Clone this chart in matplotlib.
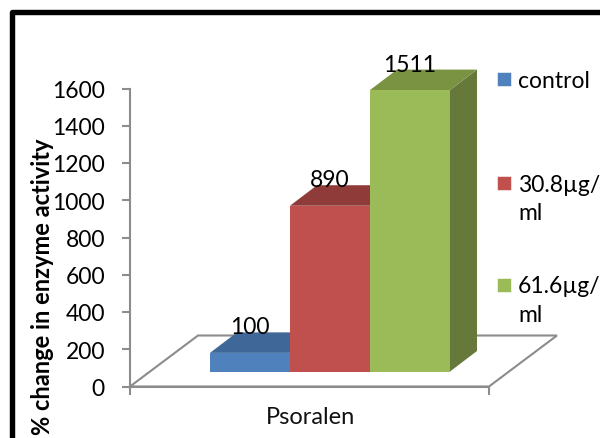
import matplotlib
matplotlib.use("Agg")
import matplotlib.pyplot as plt
from matplotlib.lines import Line2D
from matplotlib.patches import Polygon, Rectangle

plt.rcParams["font.family"] = ["Lato", "DejaVu Sans"]

# Chart data
categories = ["Psoralen"]
series_names = ["control", "30.8µg/\nml", "61.6µg/\nml"]
series_values = [100, 890, 1511]
y_ticks = [0, 200, 400, 600, 800, 1000, 1200, 1400, 1600]
y_title = "% change in enzyme activity"

# Face colours: front, top, side
front_colors = ["#4F81BD", "#C0504D", "#9BBB59"]
top_colors = ["#3F6797", "#8F3B3A", "#7A9343"]
side_colors = ["#3A5F8B", "#843735", "#66783A"]
AXIS = "#8C8C8C"

W, H = 600, 439
fig = plt.figure(figsize=(W / 100, H / 100), dpi=100, facecolor="white")


def fx(px):
    return px / W


def fy(py):
    return 1 - py / H


# Frame drawn round the figure
fig.add_artist(Line2D([fx(11.5), fx(11.5), fx(600)], [fy(445), fy(12.5), fy(12.5)],
                      color="black", lw=3.9, solid_joinstyle="round",
                      transform=fig.transFigure))

# Value axis spans pixel rows 387 to 89, horizontal data units are pixels
ax = fig.add_axes([fx(130), fy(387.5), fx(470), (387 - 89) / H])
ax.set_xlim(130, 600)
ax.set_ylim(0, 1600)
ax.patch.set_alpha(0)
units_per_px = 1600 / (387 - 89)

# Floor of the 3D box
floor_dx, floor_dy = 68, 51 * units_per_px
floor_right = 489
ax.add_patch(Polygon([(130, 0), (130 + floor_dx, floor_dy),
                      (floor_right + floor_dx, floor_dy), (floor_right, 0)],
                     closed=True, facecolor="white", edgecolor=AXIS, lw=1.5,
                     clip_on=False, zorder=1))

# Column geometry
bar_left, bar_width = 210, 80
depth_dx, depth_dy = 27, 20.5 * units_per_px
base = 15 * units_per_px

for i, value in enumerate(series_values):
    x0 = bar_left + i * bar_width
    x1 = x0 + bar_width
    top = base + value
    z = 3 + i
    ax.add_patch(Polygon([(x1, base), (x1 + depth_dx, base + depth_dy),
                          (x1 + depth_dx, top + depth_dy), (x1, top)],
                         closed=True, facecolor=side_colors[i], edgecolor="none",
                         clip_on=False, zorder=z))
    ax.add_patch(Polygon([(x0, top), (x0 + depth_dx, top + depth_dy),
                          (x1 + depth_dx, top + depth_dy), (x1, top)],
                         closed=True, facecolor=top_colors[i], edgecolor="none",
                         clip_on=False, zorder=z))
    ax.add_patch(Rectangle((x0, base), bar_width, value, facecolor=front_colors[i],
                           edgecolor="none", clip_on=False, zorder=z))
    ax.text(x0 + bar_width / 2 - 0.5, top + depth_dy + 5.5 * units_per_px, str(value),
            ha="center", va="center", fontsize=16.5, color="black", clip_on=False, zorder=10)

# Axes and ticks
for name in ("top", "right"):
    ax.spines[name].set_visible(False)
for name in ("left", "bottom"):
    ax.spines[name].set_color(AXIS)
    ax.spines[name].set_linewidth(1.5)
ax.spines["bottom"].set_bounds(130, floor_right)
ax.set_yticks(y_ticks)
ax.set_yticklabels([str(t) for t in y_ticks], fontsize=16.5, color="black")
ax.set_xticks([130, floor_right])
ax.set_xticklabels(["", ""])
ax.tick_params(axis="y", length=6, width=1.5, color=AXIS, pad=12)
ax.tick_params(axis="x", length=6, width=1.5, color=AXIS)

# Category label and rotated value-axis title
fig.text(fx(310), fy(418), categories[0], ha="center", va="center", fontsize=17, color="#111111")
fig.text(fx(43), fy(287), y_title, rotation=90, ha="center", va="center",
         fontsize=17, fontweight="bold", color="black")

# Legend entries
legend_rows = [80, 184, 286]
for name, color, row in zip(series_names, front_colors, legend_rows):
    fig.add_artist(Rectangle((fx(497), fy(row + 7)), 14 / W, 14 / H, facecolor=color,
                             edgecolor="white", lw=0.4, transform=fig.transFigure))
    fig.text(fx(518), fy(row - 9.5), name, ha="left", va="top", fontsize=16.5,
             linespacing=1.46, color="black")

fig.savefig("out.png", dpi=100, facecolor="white")
